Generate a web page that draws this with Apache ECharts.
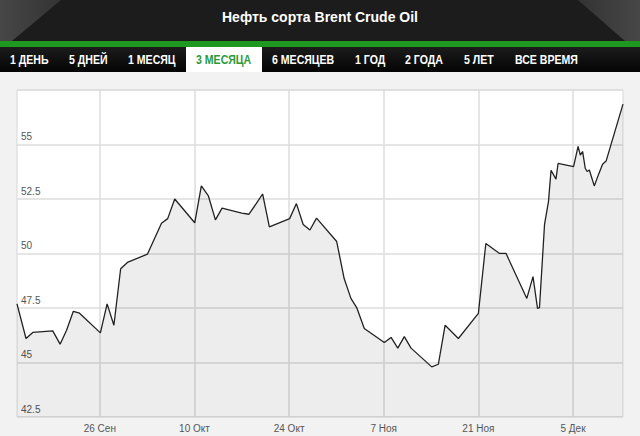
<!DOCTYPE html>
<html><head><meta charset="utf-8">
<script src="https://cdn.jsdelivr.net/npm/echarts@6/dist/echarts.min.js"></script>
<style>html,body{margin:0;padding:0;background:#f2f2f2}#c{width:640px;height:436px}</style>
</head><body><div id="c"></div>
<script>
const chartTitle = 'Нефть сорта Brent Crude Oil';
const tabs = ['1 ДЕНЬ','5 ДНЕЙ','1 МЕСЯЦ','3 МЕСЯЦА','6 МЕСЯЦЕВ','1 ГОД','2 ГОДА','5 ЛЕТ','ВСЕ ВРЕМЯ'];
const activeTab = '3 МЕСЯЦА';
const dates = [
'2016-09-13 18:00','2016-09-15 02:00','2016-09-16 02:00','2016-09-19 01:00','2016-09-20 03:00',
'2016-09-21 02:00','2016-09-22 02:00','2016-09-23 00:00','2016-09-26 02:00','2016-09-27 02:00',
'2016-09-28 02:00','2016-09-29 02:00','2016-09-30 02:00','2016-10-03 01:00','2016-10-05 03:00',
'2016-10-06 01:00','2016-10-07 02:00','2016-10-10 01:00','2016-10-11 00:30','2016-10-12 01:30',
'2016-10-13 02:30','2016-10-14 02:00','2016-10-17 00:00','2016-10-18 01:00','2016-10-19 02:00',
'2016-10-20 02:00','2016-10-21 02:00','2016-10-24 02:00','2016-10-25 02:00','2016-10-26 02:00',
'2016-10-27 02:00','2016-10-28 01:30','2016-10-31 01:00','2016-11-01 03:30','2016-11-02 03:30',
'2016-11-03 00:00','2016-11-04 03:00','2016-11-07 02:00','2016-11-08 02:00','2016-11-09 02:00',
'2016-11-10 01:00','2016-11-11 01:00','2016-11-14 02:30','2016-11-15 02:00','2016-11-16 02:00',
'2016-11-18 01:00','2016-11-21 00:00','2016-11-22 02:30','2016-11-24 02:00','2016-11-25 02:00',
'2016-11-28 04:00','2016-11-29 02:00','2016-11-29 18:00','2016-11-30 01:00','2016-11-30 19:00',
'2016-12-01 09:00','2016-12-01 18:00','2016-12-02 11:30','2016-12-02 19:00','2016-12-05 02:00',
'2016-12-05 18:00','2016-12-06 02:00','2016-12-06 10:00','2016-12-06 19:30','2016-12-07 02:00',
'2016-12-07 10:00','2016-12-08 03:30','2016-12-08 19:00','2016-12-09 09:00','2016-12-09 21:30',
'2016-12-12 09:30'];
const prices = [
47.69,46.10,46.38,46.45,45.84,
46.48,47.35,47.26,46.36,47.69,
46.71,49.30,49.59,49.97,51.39,
51.60,52.50,51.41,53.10,52.64,
51.54,52.08,51.85,51.80,52.26,
52.73,51.22,51.60,52.29,51.33,
51.08,51.62,50.55,48.85,47.94,
47.52,46.56,45.92,46.15,45.66,
46.19,45.66,44.80,44.92,46.71,
46.10,47.25,50.46,50.01,50.01,
47.94,48.94,47.48,47.52,51.34,
52.39,53.82,53.41,54.13,53.99,
54.91,54.51,54.68,53.91,53.76,
53.83,53.10,53.64,54.09,54.24,
56.85];
const yMin = 42.5, yMax = 57.5, yStep = 2.5;
const xTickDates = ['2016-09-26','2016-10-10','2016-10-24','2016-11-07','2016-11-21','2016-12-05'];
const monthNames = ['Янв','Фев','Мар','Апр','Май','Июн','Июл','Авг','Сен','Окт','Ноя','Дек'];

function parseDate(s){
  const [d,t] = s.split(' ');
  const [Y,M,D] = d.split('-').map(Number);
  let h=0,m=0;
  if (t){ [h,m] = t.split(':').map(Number); }
  return new Date(Y, M-1, D, h, m).getTime();
}
const xTicks = xTickDates.map(parseDate);
const seriesData = dates.map((d,i)=>[parseDate(d), prices[i]]);

// header layout
const tabX = [10,69,128,196,272,355,405,464,515];
const tabFont = 'bold 12px "Liberation Sans",Arial,sans-serif';
const graphics = [
  {type:'rect', shape:{x:0,y:0,width:640,height:41}, style:{fill:'#1c1c1c'}, silent:true},
  {type:'polygon', shape:{points:[[0,0],[61,0],[12,41],[0,41]]}, style:{fill:new echarts.graphic.LinearGradient(0,0,1,0,[{offset:0,color:'#474747'},{offset:1,color:'#333333'}])}, silent:true},
  {type:'polygon', shape:{points:[[578,0],[640,0],[640,41],[625,41]]}, style:{fill:new echarts.graphic.LinearGradient(0,0,1,0,[{offset:0,color:'#333333'},{offset:1,color:'#474747'}])}, silent:true},
  {type:'text', style:{text:chartTitle, x:320, y:17, align:'center', verticalAlign:'middle', fill:'#ffffff', font:'bold 14px "Liberation Sans",Arial,sans-serif'}, silent:true},
  {type:'rect', shape:{x:0,y:41,width:640,height:6}, style:{fill:'#1f981f'}, silent:true},
  {type:'rect', shape:{x:0,y:47,width:640,height:25}, style:{fill:new echarts.graphic.LinearGradient(0,0,0,1,[{offset:0,color:'#1c1c1c'},{offset:1,color:'#040404'}])}, silent:true}
];
tabs.forEach((t,i)=>{
  const active = t===activeTab;
  if (active){
    graphics.push({type:'rect', shape:{x:tabX[i]-10,y:47,width:76,height:25}, style:{fill:'#ffffff'}, silent:true});
  }
  graphics.push({type:'text', x:tabX[i], y:59.5, scaleX:0.88, style:{text:t, x:0, y:0, align:'left', verticalAlign:'middle', fill: active?'#2c9a3a':'#ffffff', font:tabFont}, silent:true});
});

const chart = echarts.init(document.getElementById('c'), null, {renderer:'svg'});
chart.setOption({
  animation:false,
  backgroundColor:'#f2f2f2',
  graphic: graphics,
  grid:{left:17,right:17,top:90,bottom:19,show:true,backgroundColor:'#ffffff',borderColor:'#d6d6d6',borderWidth:1},
  xAxis:{
    type:'value', min:'dataMin', max:'dataMax', scale:true,
    axisLine:{show:false},
    axisTick:{show:false, customValues:xTicks},
    axisLabel:{customValues:xTicks, color:'#555', fontSize:10, fontFamily:'"Liberation Sans",Arial,sans-serif', margin:6,
      formatter:(v)=>{const d=new Date(v); return d.getDate()+' '+monthNames[d.getMonth()];}},
    splitLine:{show:true, lineStyle:{color:'#dcdcdc', width:1.5}}
  },
  yAxis:{
    type:'value', min:yMin, max:yMax, interval:yStep,
    axisLine:{show:false}, axisTick:{show:false},
    axisLabel:{inside:true, color:'#555', fontSize:10, fontFamily:'"Liberation Sans",Arial,sans-serif',
      verticalAlign:'bottom', align:'left', margin:4, padding:[0,0,3,0],
      formatter:(v)=> v>=yMax ? '' : String(v)},
    splitLine:{show:true, lineStyle:{color:'#dcdcdc', width:1.5}}
  },
  series:[{
    type:'line', data:seriesData, showSymbol:false, symbol:'none',
    lineStyle:{color:'#222222', width:1.3},
    areaStyle:{color:'#000000', opacity:0.07, origin:'start'}
  }]
});
</script></body></html>
